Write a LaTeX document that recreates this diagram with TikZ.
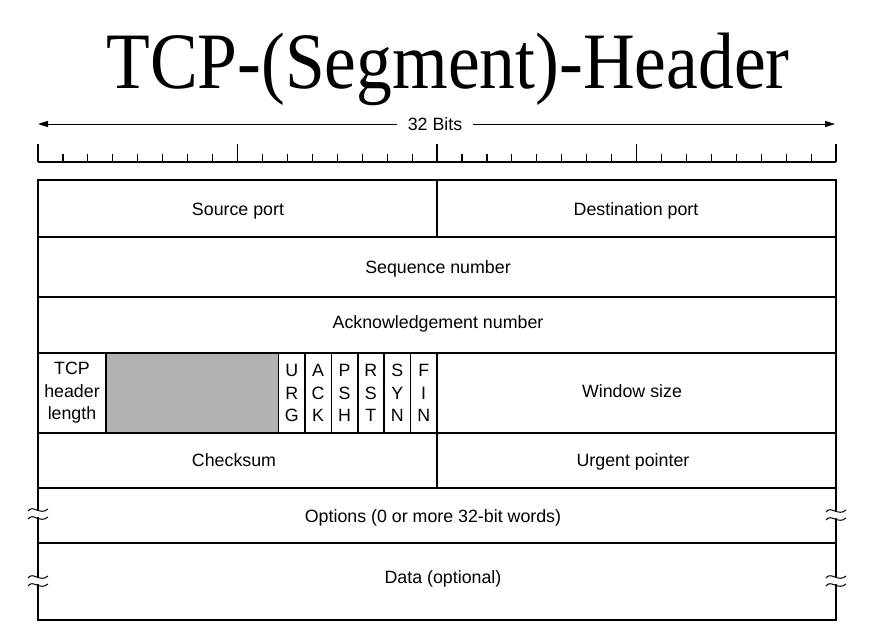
\documentclass[tikz,border=0pt]{standalone}
\usepackage{fontspec}
\setmainfont{Liberation Sans}
\newfontfamily\titlefont{Liberation Serif}
\usetikzlibrary{arrows.meta}

\tikzset{lbl/.style={font=\fontsize{8.9}{11.2}\selectfont,inner sep=1pt,align=center},
  cut/.pic={\fill[white] (-3,-3) rectangle (3,3);
    \draw[line width=.5pt] (-10,-3) .. controls (-5,-10) and (2,2) .. (10,-5);
    \draw[line width=.5pt] (-10,5) .. controls (-5,-2) and (2,10) .. (10,3);}}

\begin{document}
\begin{tikzpicture}[x=.5pt,y=-.5pt,line width=.8pt]
\useasboundingbox (0,0) rectangle (879,639);
\node[font=\fontsize{40}{40}\selectfont\titlefont,xscale=.894,anchor=base] (title) at (448,88) {TCP-(Segment)-Header};
% width arrow and bit ruler
\node[lbl,inner xsep=5pt] (bits) at (435,124) {32 Bits};
\coordinate (aL) at (38,124); \coordinate (aR) at (835,124);
\draw[line width=.5pt,-{Triangle[length=5pt,width=3pt]}] (bits) -- (aL);
\draw[line width=.5pt,-{Triangle[length=5pt,width=3pt]}] (bits) -- (aR);
\draw[line width=.6pt] (38,162) -- (836,162);
\foreach \i in {0,...,32} \draw[line width=.6pt] (38+\i*24.94,162) -- (38+\i*24.94,154);
\foreach \i in {0,8,...,32} \draw[line width=.6pt] (38+\i*24.94,162) -- (38+\i*24.94,144);
% header rows
\fill[black!30] (106,353) rectangle (278.5,433);
\draw (38,180) rectangle (836,620);
\foreach \y in {237,297,353,433,488,543} \draw (38,\y) -- (836,\y);
\draw (437,180) -- (437,237); \draw (437,433) -- (437,488); \draw (106,353) -- (106,433);
\foreach \k in {0,...,6} \draw (278.5+\k*26.4,353) -- (278.5+\k*26.4,433);
\node[lbl,anchor=base] (src) at (238,215) {Source port};
\node[lbl,anchor=base] (dst) at (636,215) {Destination port};
\node[lbl,anchor=base] (seq) at (438,273.5) {Sequence number};
\node[lbl,anchor=base] (ack) at (438,328.5) {Acknowledgement number};
\node[lbl] (hlen) at (72,393) {TCP\\header\\length};
\foreach \f [count=\k from 0] in {{U\\R\\G},{A\\C\\K},{P\\S\\H},{R\\S\\T},{S\\Y\\N},{F\\I\\N}}
  \node[lbl] (flag\k) at (278.5+\k*26.4+13.2,393) {\f};
\node[lbl,anchor=base] (win) at (632,397.5) {Window size};
\node[lbl,anchor=base] (chk) at (234,466.5) {Checksum};
\node[lbl,anchor=base] (urg) at (633,466.5) {Urgent pointer};
\node[lbl,anchor=base] (opt) at (433,522.5) {Options (0 or more 32-bit words)};
\node[lbl,anchor=base] (data) at (443,583.5) {Data (optional)};
% breaks in the side lines
\pic at (38,514) {cut}; \pic at (836,515) {cut};
\pic at (38,581) {cut}; \pic at (836,581) {cut};
\end{tikzpicture}
\end{document}
